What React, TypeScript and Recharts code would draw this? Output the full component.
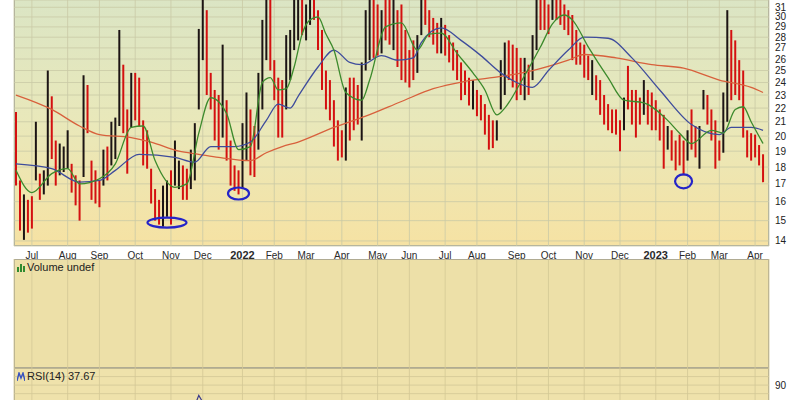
import {
  ComposedChart,
  Bar,
  Line,
  XAxis,
  YAxis,
  CartesianGrid,
  Cell,
  ReferenceDot,
} from 'recharts'

// half-week bars, Jun 2021 .. Apr 2023
const HIGH = [
  21.7, 17.2, 16.4, 16.1, 16.3, 21.0, 17.6, 17.8, 25.0, 22.9,
  19.7, 19.5, 19.3, 20.4, 18.2, 17.5, 17.2, 24.6, 23.8, 18.4,
  17.8, 17.2, 19.1, 19.3, 21.0, 21.3, 28.7, 25.5, 21.9, 24.8,
  24.8, 24.4, 21.1, 20.4, 17.9, 16.7, 16.1, 16.9, 17.2, 17.8,
  19.7, 18.4, 18.1, 17.9, 19.1, 20.9, 28.8, 32.5, 30.7, 24.8,
  23.4, 23.0, 27.3, 22.6, 19.7, 18.1, 17.8, 20.9, 23.2, 21.9,
  20.7, 24.8, 29.7, 32.5, 32.5, 25.9, 24.4, 24.2, 28.2, 28.7,
  32.5, 32.5, 32.5, 31.3, 32.5, 32.5, 30.7, 28.7, 25.0, 24.2,
  22.6, 21.1, 20.4, 23.6, 24.4, 24.4, 23.8, 25.7, 30.7, 32.5,
  32.5, 31.3, 30.7, 32.5, 32.5, 32.5, 30.7, 31.3, 28.7, 26.8,
  27.7, 28.2, 32.5, 32.5, 30.7, 29.9, 29.4, 29.9, 29.2, 28.2,
  27.5, 26.8, 25.7, 25.0, 24.4, 24.2, 23.4, 23.0, 22.3, 21.5,
  21.1, 21.1, 25.9, 27.5, 27.7, 27.3, 27.0, 26.1, 26.1, 25.5,
  28.2, 32.5, 32.5, 32.5, 31.3, 32.5, 32.5, 32.5, 31.3, 30.7,
  30.2, 28.7, 27.5, 27.3, 26.3, 25.9, 24.6, 24.2, 23.0, 22.3,
  21.9, 21.9, 21.1, 22.8, 25.4, 23.4, 23.4, 22.8, 24.2, 23.4,
  23.2, 22.6, 21.9, 21.5, 20.7, 20.4, 19.7, 20.1, 19.7, 20.4,
  21.9, 20.7, 20.7, 23.4, 23.0, 21.9, 21.1, 19.7, 23.2, 30.7,
  28.7, 27.7, 25.9, 25.0, 20.4, 20.2, 20.1, 19.4, 18.8, null,
]

const LOW = [
  16.9, 14.5, 14.05, 14.4, 14.6, 17.2, 16.1, 16.4, 16.9, 18.5,
  16.9, 17.5, 17.7, 17.9, 16.5, 15.8, 15.0, 17.4, 20.2, 16.1,
  15.9, 15.7, 16.9, 17.2, 18.1, 18.5, 20.7, 20.2, 17.6, 20.6,
  21.1, 20.7, 18.1, 17.9, 15.9, 15.0, 14.8, 14.7, 15.2, 14.8,
  16.9, 16.7, 16.1, 16.1, 16.7, 17.2, 21.9, 25.9, 23.0, 21.9,
  19.7, 19.1, 19.9, 18.4, 16.9, 16.6, 16.4, 16.7, 18.4, 17.5,
  17.4, 19.1, 21.9, 25.9, 25.0, 22.6, 19.9, 19.9, 21.9, 24.2,
  26.8, 27.7, 28.2, 27.7, 29.2, 29.7, 26.8, 23.4, 21.9, 21.1,
  19.3, 18.4, 18.6, 18.4, 19.7, 20.4, 20.8, 19.7, 25.0, 25.9,
  26.1, 26.3, 26.5, 27.7, 27.3, 26.8, 25.3, 24.2, 24.0, 23.6,
  24.2, 24.8, 28.2, 29.2, 28.0, 27.3, 26.5, 26.5, 26.3, 25.7,
  25.0, 24.2, 22.6, 23.0, 22.2, 21.9, 21.4, 21.1, 20.1, 19.1,
  19.2, 19.7, 21.9, 23.0, 24.2, 23.6, 22.6, 23.0, 22.6, 23.0,
  24.2, 26.8, 28.7, 28.7, 28.3, 29.7, 29.7, 29.2, 28.7, 28.2,
  25.9, 25.5, 25.5, 24.4, 24.2, 23.0, 22.6, 21.5, 20.8, 20.4,
  20.2, 20.1, 19.0, 20.4, 21.9, 20.8, 19.9, 20.8, 21.5, 20.8,
  20.4, 20.4, 19.7, 17.9, 19.1, 18.4, 17.8, 18.1, 17.5, 18.4,
  19.1, 18.6, 17.9, 21.9, 20.8, 19.7, 17.9, 18.4, 18.9, 21.0,
  22.6, 23.0, 22.6, 19.9, 18.6, 18.4, 18.6, 18.1, 17.1, null,
]

// 1 = closed up (black), 0 = closed down (red)
const UP = [
  0, 0, 1, 0, 0, 1, 0, 1, 1, 0, 0, 1, 1, 1, 0, 0, 0, 1, 0, 0,
  0, 0, 1, 0, 1, 1, 1, 0, 0, 1, 0, 0, 0, 0, 0, 0, 0, 1, 1, 0,
  1, 1, 0, 0, 1, 1, 1, 1, 0, 0, 0, 0, 1, 0, 0, 0, 0, 1, 1, 0,
  0, 1, 1, 1, 0, 0, 0, 0, 1, 1, 1, 1, 0, 1, 1, 0, 0, 0, 0, 0,
  0, 0, 0, 1, 0, 0, 0, 1, 1, 1, 0, 0, 1, 0, 0, 1, 0, 0, 0, 0,
  0, 1, 1, 0, 0, 0, 0, 1, 0, 0, 0, 0, 0, 0, 0, 1, 0, 0, 0, 0,
  0, 1, 1, 1, 0, 0, 0, 0, 1, 0, 1, 1, 0, 0, 0, 1, 0, 0, 0, 0,
  0, 0, 0, 0, 0, 1, 0, 0, 0, 0, 0, 0, 0, 1, 0, 0, 0, 0, 1, 0,
  0, 0, 0, 0, 1, 0, 0, 0, 0, 1, 0, 0, 1, 1, 0, 0, 0, 0, 1, 1,
  0, 0, 0, 0, 0, 0, 0, 0, 0, 0,
]

// moving averages: [bar index, price]
const SMA20 = [
  [0, 17.8], [4, 16.5], [9, 17.6], [13, 17.9], [16, 17.0], [21, 17.3],
  [25, 18.2], [29, 20.6], [32, 20.7], [35, 18.4], [40, 16.8], [43, 17.0],
  [46, 20.2], [49, 22.8], [53, 21.6], [56, 19.1], [59, 19.3], [62, 24.0],
  [64, 24.4], [66, 23.4], [68, 23.5], [70, 25.3], [72, 28.3], [74, 29.7],
  [76, 30.0], [78, 28.3], [80, 26.8], [83, 23.2], [87, 22.6], [89, 24.2],
  [93, 29.0], [97, 29.4], [101, 26.8], [104, 28.3], [107, 28.4], [111, 26.5],
  [115, 24.8], [118, 23.4], [121, 21.5], [123, 22.0], [127, 24.0], [132, 27.1],
  [135, 29.3], [138, 30.2], [140, 29.7], [144, 27.1], [149, 24.4], [153, 22.6],
  [158, 22.4], [164, 21.1], [167, 20.2], [170, 19.5], [175, 20.4], [178, 20.2],
  [181, 21.9], [183, 22.1], [185, 21.0], [188, 19.5],
]

const SMA50 = [
  [0, 18.2], [9, 17.9], [16, 17.1], [21, 17.2], [25, 17.8], [31, 18.8],
  [40, 18.6], [45, 18.3], [49, 19.3], [55, 19.3], [59, 19.6], [63, 21.1],
  [66, 22.3], [69, 22.0], [71, 22.9], [76, 25.3], [80, 26.8], [84, 25.7],
  [87, 25.5], [92, 26.3], [96, 25.9], [100, 26.1], [102, 27.5], [107, 28.9],
  [112, 27.7], [117, 26.3], [122, 24.8], [126, 24.0], [130, 23.6], [134, 25.0],
  [139, 26.8], [143, 28.0], [149, 27.9], [155, 26.1], [162, 23.4], [170, 20.8],
  [177, 20.1], [180, 20.6], [185, 20.6], [188, 20.4],
]

const SMA200 = [
  [0, 23.0], [9, 21.9], [16, 20.7], [21, 20.1], [29, 19.9], [34, 19.6],
  [41, 19.0], [46, 18.8], [51, 18.6], [59, 18.4], [63, 18.9], [67, 19.3],
  [71, 19.6], [80, 20.6], [88, 21.4], [97, 22.5], [105, 23.5], [113, 24.1],
  [122, 24.5], [130, 25.0], [139, 25.9], [143, 26.4], [151, 26.1], [160, 25.5],
  [168, 25.2], [177, 24.2], [185, 23.6], [188, 23.2],
]

const RSI14 = [[43, 52], [45, 66], [46, 78], [47, 70], [49, 55]]

// circled lows: [bar index, price]
const MARKED_LOWS = [[38, 14.9], [56, 16.45], [168, 17.15]]
const MARK_SIZE = [[19.5, 5], [10.5, 6], [8.5, 7]]

const MONTH_TICKS = [4, 13, 21, 30, 39, 47, 57, 65, 73, 82, 91, 99, 108, 116, 126, 134, 143, 152, 161, 169, 177, 186]
const MONTH_LABELS = [
  'Jul', 'Aug', 'Sep', 'Oct', 'Nov', 'Dec', '2022', 'Feb', 'Mar', 'Apr', 'May',
  'Jun', 'Jul', 'Aug', 'Sep', 'Oct', 'Nov', 'Dec', '2023', 'Feb', 'Mar', 'Apr',
]
const PRICE_TICKS = [14, 15, 16, 17, 18, 19, 20, 21, 22, 23, 24, 25, 26, 27, 28, 29, 30, 31]
const RSI_TICKS = [10, 20, 30, 40, 50, 60, 70, 80, 90, 100]

const FONT = '"Liberation Sans", Arial, sans-serif'
const GRID = '#c9c9a6'

const toMap = (pairs: number[][]) => new Map(pairs.map(([i, v]) => [i, v]))
const sma20 = toMap(SMA20)
const sma50 = toMap(SMA50)
const sma200 = toMap(SMA200)
const rsi = toMap(RSI14)

const rows = HIGH.map((h, i) => ({
  i,
  range: h == null ? null : [LOW[i], h],
  up: UP[i],
  sma20: sma20.get(i) ?? null,
  sma50: sma50.get(i) ?? null,
  sma200: sma200.get(i) ?? null,
  rsi: rsi.get(i) ?? null,
}))

function MonthTick({ x, y, payload }: any) {
  const label = MONTH_LABELS[MONTH_TICKS.indexOf(payload.value)]
  const year = /^\d{4}$/.test(label)
  return (
    <text
      x={x}
      y={y}
      dy={10.5}
      textAnchor="middle"
      fontFamily={FONT}
      fontSize={year ? 11 : 10}
      fontWeight={year ? 700 : 400}
      fill="#2a2a2a"
    >
      {label}
    </text>
  )
}

function Ellipse({ cx, cy, size }: any) {
  return <ellipse cx={cx} cy={cy} rx={size[0]} ry={size[1]} fill="none" stroke="#2424c8" strokeWidth={2.2} />
}

const xAxisCommon = {
  dataKey: 'i',
  type: 'category' as const,
  scale: 'band' as const,
  ticks: MONTH_TICKS,
  interval: 0 as const,
}

function PanelLabel({ top, icon, text }: { top: number; icon: 'vol' | 'rsi'; text: string }) {
  return (
    <div
      style={{
        position: 'absolute',
        left: 17,
        top,
        display: 'flex',
        alignItems: 'center',
        gap: 2,
        fontFamily: FONT,
        fontSize: 11,
        color: '#222',
      }}
    >
      <svg width={8} height={9}>
        {icon === 'vol' ? (
          <g fill="#2f8a2f">
            <rect x={0} y={4} width={2} height={5} />
            <rect x={3} y={1} width={2} height={8} />
            <rect x={6} y={3} width={2} height={6} />
          </g>
        ) : (
          <polyline points="0,9 2,1 4,6 6,1 8,9" fill="none" stroke="#3550c0" strokeWidth={1.4} />
        )}
      </svg>
      <span>{text}</span>
    </div>
  )
}

export default function App() {
  return (
    <div
      style={{
        position: 'fixed',
        left: 0,
        top: 0,
        width: 800,
        height: 400,
        overflow: 'hidden',
        background: '#fff',
      }}
    >
      {/* panel backgrounds */}
      <div
        style={{
          position: 'absolute',
          left: 14,
          top: 0,
          width: 755,
          height: 246,
          background: 'linear-gradient(to bottom, #dbe5c4 0%, #e9e8ba 50%, #f6e2a3 100%)',
          boxShadow: 'inset 1px 0 0 #a9a99a, inset -1px 0 0 #a9a99a, inset 0 -1px 0 #a9a99a',
        }}
      />
      <div
        style={{
          position: 'absolute',
          left: 14,
          top: 259,
          width: 755,
          height: 109,
          background: '#ede0a8',
          boxShadow: 'inset 0 0 0 1px #b0ab92',
        }}
      />
      <div
        style={{
          position: 'absolute',
          left: 14,
          top: 368,
          width: 755,
          height: 40,
          background: '#efe2ab',
          boxShadow: 'inset 0 0 0 1px #b0ab92',
        }}
      />

      {/* price panel */}
      <div style={{ position: 'absolute', left: 0, top: 0 }}>
        <ComposedChart width={800} height={259} data={rows} margin={{ top: 0, right: 0, left: 14, bottom: 0 }}>
          <CartesianGrid stroke={GRID} strokeWidth={0.8} />
          <XAxis
            {...xAxisCommon}
            height={13}
            tickLine={false}
            axisLine={false}
            tickSize={0}
            tick={<MonthTick />}
          />
          <YAxis
            orientation="right"
            width={31}
            scale="log"
            domain={[13.76, 31.78]}
            allowDataOverflow
            ticks={PRICE_TICKS}
            interval={0}
            tickLine={false}
            axisLine={false}
            tickSize={0}
            tickMargin={6}
            tick={{ fontSize: 10, fill: '#222', fontFamily: FONT }}
          />
          <Bar dataKey="range" barSize={2} isAnimationActive={false}>
            {rows.map((r, k) => (
              <Cell key={k} fill={r.up ? '#1c1414' : '#d41010'} />
            ))}
          </Bar>
          <Line dataKey="sma200" type="monotone" connectNulls dot={false} stroke="#d8603c" strokeWidth={1.3} isAnimationActive={false} />
          <Line dataKey="sma50" type="monotone" connectNulls dot={false} stroke="#3e4c9c" strokeWidth={1.3} isAnimationActive={false} />
          <Line dataKey="sma20" type="monotone" connectNulls dot={false} stroke="#3c8a2c" strokeWidth={1.3} isAnimationActive={false} />
          {MARKED_LOWS.map(([i, p], k) => (
            <ReferenceDot
              key={k}
              x={i}
              y={p}
              r={1}
              shape={(props: any) => <Ellipse {...props} size={MARK_SIZE[k]} />}
            />
          ))}
        </ComposedChart>
      </div>

      {/* volume panel */}
      <div style={{ position: 'absolute', left: 0, top: 259 }}>
        <ComposedChart width={800} height={109} data={rows} margin={{ top: 0, right: 31, left: 14, bottom: 0 }}>
          <CartesianGrid stroke="#d3c896" strokeWidth={0.8} horizontal={false} />
          <XAxis {...xAxisCommon} hide />
          <YAxis hide domain={[0, 1]} />
          <Bar dataKey="volume" isAnimationActive={false} />
        </ComposedChart>
      </div>
      <PanelLabel top={261} icon="vol" text="Volume undef" />

      {/* RSI panel */}
      <div style={{ position: 'absolute', left: 0, top: 368 }}>
        <ComposedChart width={800} height={94} data={rows} margin={{ top: 0, right: 0, left: 14, bottom: 0 }}>
          <CartesianGrid stroke="#d3c896" strokeWidth={0.8} />
          <XAxis {...xAxisCommon} hide />
          <YAxis
            orientation="right"
            width={31}
            domain={[0, 110]}
            ticks={RSI_TICKS}
            interval={0}
            tickLine={false}
            axisLine={false}
            tickSize={0}
            tickMargin={6}
            tickFormatter={(v: number) => (v === 90 ? '90' : '')}
            tick={{ fontSize: 10, fill: '#222', fontFamily: FONT }}
          />
          <Line dataKey="rsi" connectNulls dot={false} stroke="#3a3a8a" strokeWidth={1.2} isAnimationActive={false} />
        </ComposedChart>
      </div>
      <PanelLabel top={370} icon="rsi" text="RSI(14) 37.67" />
    </div>
  )
}
